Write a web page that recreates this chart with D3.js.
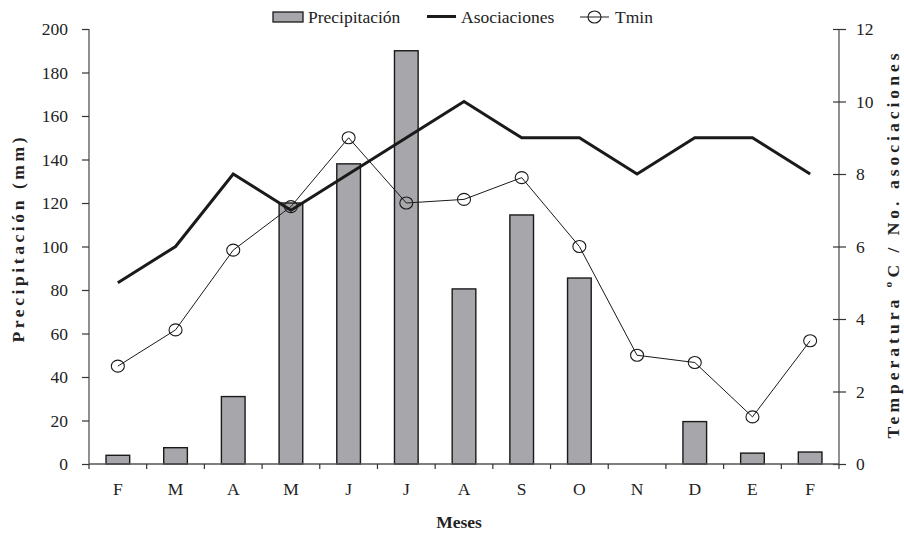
<!DOCTYPE html>
<html><head><meta charset="utf-8">
<script src="https://cdn.jsdelivr.net/npm/d3@7"></script>
<style>body{margin:0;background:#fff}svg{display:block;font-family:"Liberation Serif","Times New Roman",serif}</style>
</head><body><svg id="c" width="904" height="534"></svg>
<script>
const months = ["F","M","A","M","J","J","A","S","O","N","D","E","F"];
const precipitacion = [4,7.5,31,120,138,190,80.5,114.5,85.5,0,19.5,5,5.5];
const asociaciones = [5,6,8,7,8,9,10,9,9,8,9,9,8];
const tmin = [2.7,3.7,5.9,7.1,9.0,7.2,7.3,7.9,6.0,3.0,2.8,1.3,3.4];
const leftTicks = [0,20,40,60,80,100,120,140,160,180,200];
const rightTicks = [0,2,4,6,8,10,12];

const svg = d3.select("#c");
const L=89, R=839, T=29, B=464;
const FS=17.5;
const x = d3.scaleBand().domain(d3.range(months.length)).range([L,R]);
const yL = d3.scaleLinear().domain([0,200]).range([B,T]);
const yR = d3.scaleLinear().domain([0,12]).range([B,T]);
const axisCol="#555";

// bars
const bw = x.bandwidth()*0.41;
svg.append("g").selectAll("rect").data(precipitacion).join("rect")
  .attr("x",(d,i)=>x(i)+x.bandwidth()/2-bw/2).attr("width",bw)
  .attr("y",d=>yL(d)).attr("height",d=>B-yL(d))
  .attr("fill","#a7a7ab").attr("stroke","#1a1a1a").attr("stroke-width",1.4)
  .attr("visibility",d=>d>0?"visible":"hidden");

// left axis
const gl = svg.append("g").attr("transform",`translate(${L},0)`)
  .call(d3.axisLeft(yL).tickValues(leftTicks).tickSize(7).tickPadding(14));
// right axis
const gr = svg.append("g").attr("transform",`translate(${R},0)`)
  .call(d3.axisRight(yR).tickValues(rightTicks).tickSize(7).tickPadding(10));
gr.selectAll(".tick line").attr("x1",-6);
// x axis
const gx = svg.append("g").attr("transform",`translate(0,${B})`)
  .call(d3.axisBottom(x).tickFormat(i=>months[i]).tickSize(0).tickPadding(19));
gx.selectAll(".tick text").attr("dy","0.71em");
const bTicks = d3.range(months.length+1).map(i=>L+i*x.step());
gx.selectAll(".bt").data(bTicks).join("line").attr("class","bt")
  .attr("x1",d=>d).attr("x2",d=>d).attr("y1",0).attr("y2",5).attr("stroke","#333").attr("stroke-width",1.2);
[gl,gr,gx].forEach(g=>{
  g.select(".domain").attr("stroke",axisCol).attr("stroke-width",1.3);
  g.selectAll(".tick line").attr("stroke","#333").attr("stroke-width",1.2);
  g.selectAll(".tick text").attr("font-family","Liberation Serif").attr("font-size",FS).attr("fill","#222");
});
gl.select(".domain").attr("d",`M0,${T}V${B}`);
gr.select(".domain").attr("d",`M0,${T}V${B}`);
gx.select(".domain").attr("d",`M${L},0H${R}`);

const cx = i=>x(i)+x.bandwidth()/2;
// asociaciones line
svg.append("path").datum(asociaciones)
  .attr("d",d3.line().x((d,i)=>cx(i)).y(d=>yR(d)))
  .attr("fill","none").attr("stroke","#1a1a1a").attr("stroke-width",3);
// tmin
svg.append("path").datum(tmin)
  .attr("d",d3.line().x((d,i)=>cx(i)).y(d=>yR(d)))
  .attr("fill","none").attr("stroke","#1a1a1a").attr("stroke-width",1);
svg.append("g").selectAll("ellipse").data(tmin).join("ellipse")
  .attr("cx",(d,i)=>cx(i)).attr("cy",d=>yR(d)).attr("rx",6.5).attr("ry",6)
  .attr("fill","none").attr("stroke","#1a1a1a").attr("stroke-width",1.1);

// axis titles
svg.append("text").attr("transform",`translate(24,240) rotate(-90)`)
  .attr("text-anchor","middle").attr("font-weight","bold").attr("font-size",FS)
  .attr("textLength",205).attr("lengthAdjust","spacing")
  .attr("fill","#222").text("Precipitación (mm)");
svg.append("text").attr("transform",`translate(899,246) rotate(-90)`)
  .attr("text-anchor","middle").attr("font-weight","bold").attr("font-size",FS)
  .attr("textLength",385).attr("lengthAdjust","spacing")
  .attr("fill","#222").text("Temperatura ºC / No. asociaciones");
svg.append("text").attr("x",459).attr("y",528).attr("text-anchor","middle")
  .attr("font-weight","bold").attr("font-size",FS).attr("fill","#222").text("Meses");

// legend
const lg = svg.append("g").attr("font-size",FS).attr("fill","#222");
lg.append("rect").attr("x",273).attr("y",12).attr("width",30).attr("height",10)
  .attr("fill","#a7a7ab").attr("stroke","#1a1a1a").attr("stroke-width",1.3);
lg.append("text").attr("x",308).attr("y",23).text("Precipitación");
lg.append("line").attr("x1",427).attr("x2",456).attr("y1",16.5).attr("y2",16.5).attr("stroke","#1a1a1a").attr("stroke-width",3);
lg.append("text").attr("x",461).attr("y",23).text("Asociaciones");
lg.append("line").attr("x1",580).attr("x2",609).attr("y1",17).attr("y2",17).attr("stroke","#1a1a1a").attr("stroke-width",1);
lg.append("ellipse").attr("cx",594.5).attr("cy",17).attr("rx",6.5).attr("ry",6).attr("fill","none").attr("stroke","#1a1a1a").attr("stroke-width",1.1);
lg.append("text").attr("x",615).attr("y",23).text("Tmin");
</script></body></html>
